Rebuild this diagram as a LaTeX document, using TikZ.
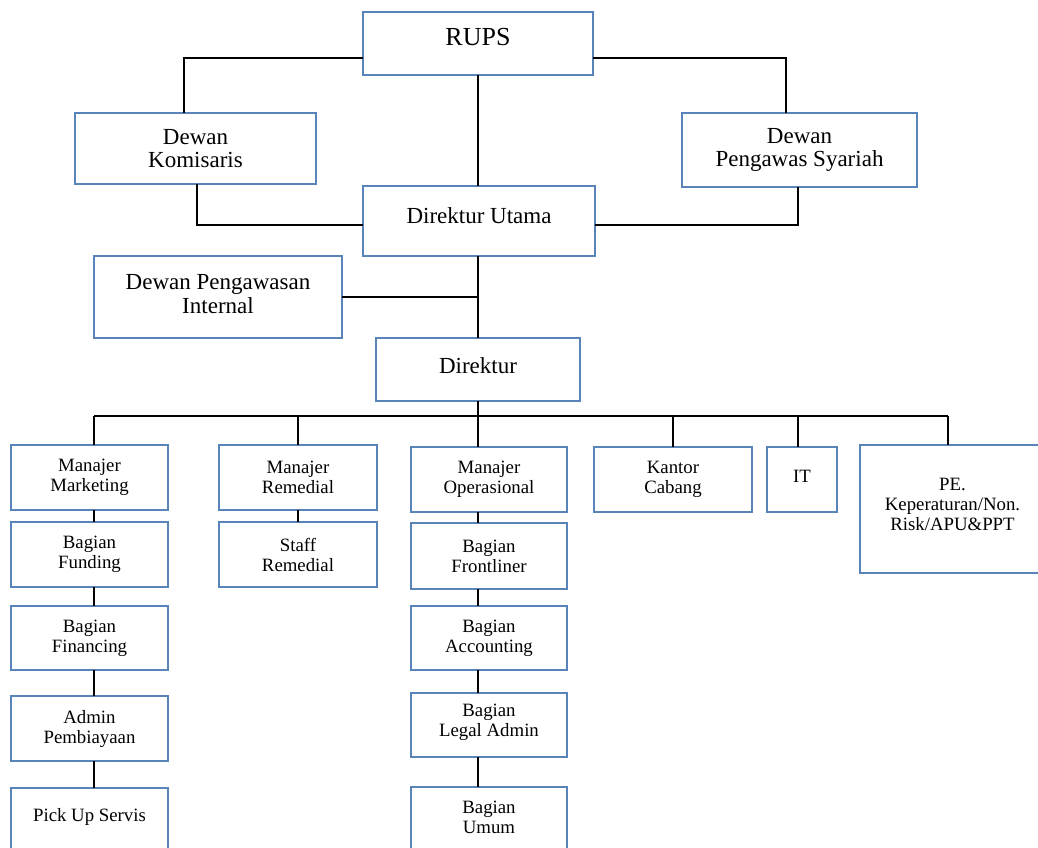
\documentclass[tikz,border=0pt]{standalone}
\usepackage{fontspec}
\setmainfont{Liberation Serif}
\definecolor{boxblue}{RGB}{88,132,186}
\begin{document}
\begin{tikzpicture}[x=1pt,y=-1pt,
  box/.style={draw=boxblue, line width=1.5pt, fill=white, inner sep=0pt, outer sep=0pt, align=center},
  big/.style={box, font=\fontsize{26}{28}\selectfont},
  hi/.style={box, font=\fontsize{23}{23.5}\selectfont},
  lo/.style={box, font=\fontsize{18.8}{20}\selectfont},
  conn/.style={draw=black, line width=1.4pt}]
\clip (0,0) rectangle (1038,848);
\fill[white] (0,0) rectangle (1038,848);
% top levels
\node[big, minimum width=230pt, minimum height=63pt, text depth=14pt] (rups) at (478,43.5) {RUPS};
\node[hi, minimum width=241pt, minimum height=71pt] (dk) at (195.5,148.5) {Dewan\\Komisaris};
\node[hi, minimum width=235pt, minimum height=74pt] (dps) at (799.5,150) {Dewan\\Pengawas Syariah};
\node[hi, minimum width=232pt, minimum height=70pt, text depth=10pt] (du) at (479,221) {Direktur Utama};
\node[hi, minimum width=248pt, minimum height=82pt, text depth=6pt] (dpi) at (218,297) {Dewan Pengawasan\\Internal};
\node[hi, minimum width=204pt, minimum height=63pt, text depth=8pt] (dir) at (478,369.5) {Direktur};
% column 1
\node[lo, minimum width=157pt, minimum height=65pt] (mm) at (89.5,477.5) {Manajer\\Marketing};
\node[lo, minimum width=157pt, minimum height=65pt] (bf) at (89.5,554.5) {Bagian\\Funding};
\node[lo, minimum width=157pt, minimum height=64pt] (bfin) at (89.5,638) {Bagian\\Financing};
\node[lo, minimum width=157pt, minimum height=65pt] (ap) at (89.5,728.5) {Admin\\Pembiayaan};
\node[lo, minimum width=157pt, minimum height=70pt, text depth=16pt] (pus) at (89.5,823) {Pick Up Servis};
% column 2
\node[lo, minimum width=158pt, minimum height=65pt] (mr) at (298,477.5) {Manajer\\Remedial};
\node[lo, minimum width=158pt, minimum height=65pt] (sr) at (298,554.5) {Staff\\Remedial};
% column 3
\node[lo, minimum width=156pt, minimum height=65pt] (mo) at (489,479.5) {Manajer\\Operasional};
\node[lo, minimum width=156pt, minimum height=66pt] (bfr) at (489,556) {Bagian\\Frontliner};
\node[lo, minimum width=156pt, minimum height=64pt] (bacc) at (489,638) {Bagian\\Accounting};
\node[lo, minimum width=156pt, minimum height=64pt, text depth=9pt] (bla) at (489,725) {Bagian\\Legal Admin};
\node[lo, minimum width=156pt, minimum height=71pt, text depth=10pt] (bu) at (489,822.5) {Bagian\\Umum};
% others
\node[lo, minimum width=158pt, minimum height=65pt] (kc) at (673,479.5) {Kantor\\Cabang};
\node[lo, minimum width=70pt, minimum height=65pt, text depth=6pt] (it) at (802,479.5) {IT};
\node[lo, minimum width=185pt, minimum height=128pt, text depth=10pt] (pe) at (952.5,509) {PE.\\Keperaturan/Non.\\Risk/APU\&PPT};
% connector helpers
\coordinate (rl) at (184,58);
\coordinate (rr) at (786,58);
\coordinate (dkc) at (197,225);
\coordinate (dpsc) at (798,225);
\coordinate (busL) at (94,416);
\coordinate (busR) at (948,416);
\coordinate (itc) at (798,416);
% connectors
\draw[conn] (rups.west |- rl) -- (rl) -- (rl |- dk.north);
\draw[conn] (rups.east |- rr) -- (rr) -- (rr |- dps.north);
\draw[conn] (rups.south) -- (rups.south |- du.north);
\draw[conn] (dkc |- dk.south) -- (dkc) -- (dkc -| du.west);
\draw[conn] (dpsc |- dps.south) -- (dpsc) -- (dpsc -| du.east);
\draw[conn] (du.south -| dir.north) -- (dir.north);
\draw[conn] (dpi.east) -- (dpi.east -| dir.north);
\draw[conn] (dir.south) -- (dir.south |- mo.north);
\draw[conn] (busL) -- (busR);
\draw[conn] (busL) -- (busL |- mm.north);
\draw[conn] (mr.north |- busL) -- (mr.north);
\draw[conn] (kc.north |- busL) -- (kc.north);
\draw[conn] (itc) -- (itc |- it.north);
\draw[conn] (busR) -- (busR |- pe.north);
\draw[conn] (busL |- mm.south) -- (busL |- bf.north);
\draw[conn] (busL |- bf.south) -- (busL |- bfin.north);
\draw[conn] (busL |- bfin.south) -- (busL |- ap.north);
\draw[conn] (busL |- ap.south) -- (busL |- pus.north);
\draw[conn] (mr.south) -- (sr.north);
\draw[conn] (dir.south |- mo.south) -- (dir.south |- bfr.north);
\draw[conn] (dir.south |- bfr.south) -- (dir.south |- bacc.north);
\draw[conn] (dir.south |- bacc.south) -- (dir.south |- bla.north);
\draw[conn] (dir.south |- bla.south) -- (dir.south |- bu.north);
\end{tikzpicture}
\end{document}
